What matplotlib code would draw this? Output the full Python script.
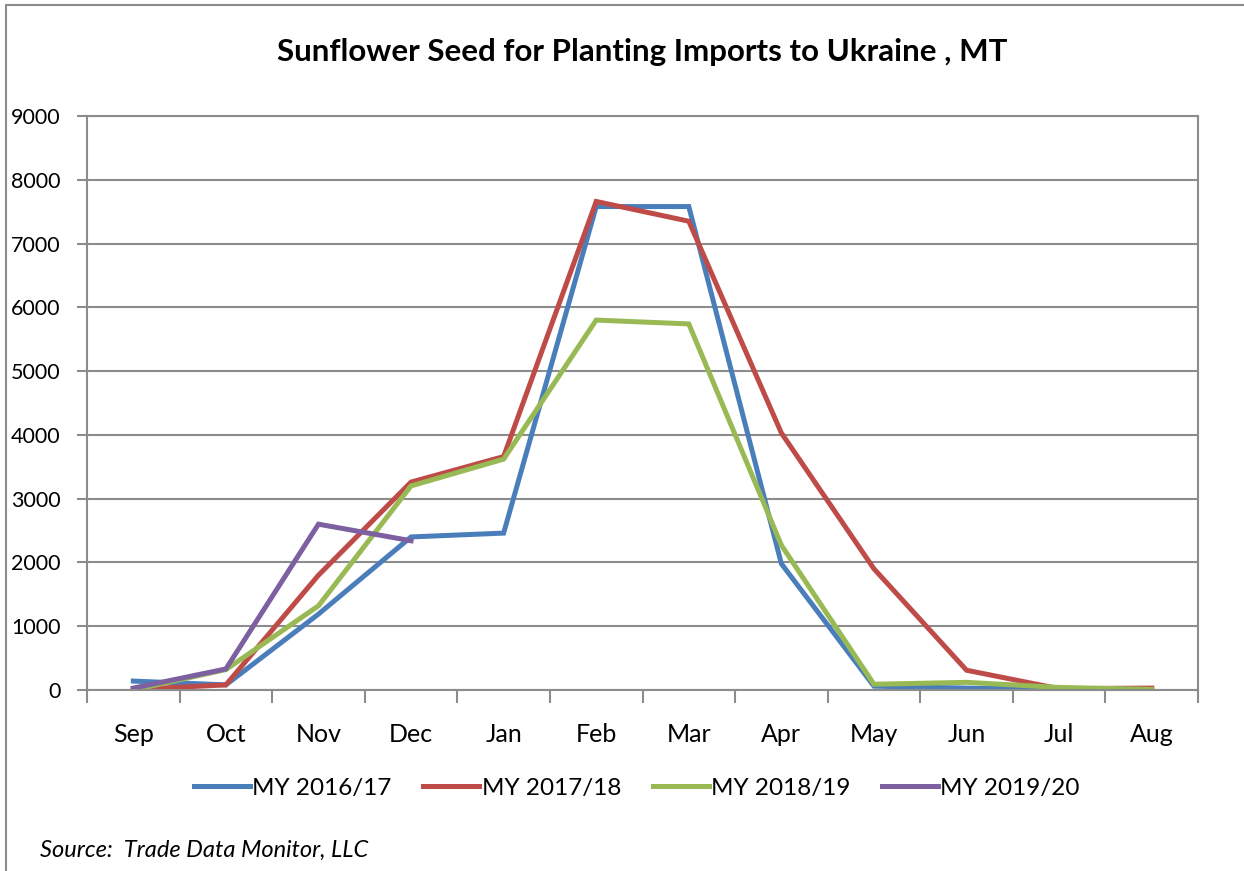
import matplotlib.pyplot as plt
import numpy as np
from matplotlib.patches import Rectangle
from matplotlib.lines import Line2D

months = ["Sep", "Oct", "Nov", "Dec", "Jan", "Feb", "Mar", "Apr", "May", "Jun", "Jul", "Aug"]

my_2016 = [140, 80, 1190, 2400, 2460, 7580, 7580, 1980, 60, 30, 10, 10]
my_2017 = [10, 80, 1800, 3260, 3660, 7660, 7350, 4030, 1900, 310, 20, 30]
my_2018 = [0, 320, 1320, 3200, 3620, 5800, 5740, 2270, 90, 120, 40, 10]
my_2019 = [30, 330, 2600, 2340]

series_names = ["MY 2016/17", "MY 2017/18", "MY 2018/19", "MY 2019/20"]
colors = ["#4A7EBB", "#BE4B48", "#98B954", "#7D60A0"]

plt.rcParams['font.family'] = ['Lato', 'DejaVu Sans']

fig = plt.figure(figsize=(12.44, 8.71), dpi=100)
ax = fig.add_axes([87 / 1244, 1 - 690 / 871, (1198 - 87) / 1244, (690 - 116) / 871])

# outer chart frame (left and top edges visible)
fig.patches.append(Rectangle((6 / 1244, -0.1), 1.2, 1 - 5 / 871 + 0.1, transform=fig.transFigure,
                             fill=False, edgecolor="#8c8c8c", lw=1.5))

x = np.arange(len(months))
all_series = [my_2016, my_2017, my_2018, my_2019]
for vals, name, c in zip(all_series, series_names, colors):
    ax.plot(x[:len(vals)], vals, color=c, lw=3.6, label=name, solid_joinstyle='miter')

ax.set_xlim(-0.5, len(months) - 0.5)
ax.set_ylim(0, 9000)
ax.set_yticks(np.arange(0, 9001, 1000))
ax.set_xticks(x)
ax.set_xticklabels(months)
ax.set_xticks(np.arange(-0.5, len(months), 1), minor=True)
ax.tick_params(axis='x', which='major', length=0, pad=24, labelsize=18)
ax.tick_params(axis='x', which='minor', length=9, width=1.5, color="#8c8c8c", direction='out')
ax.tick_params(axis='y', length=7, width=1.5, color="#8c8c8c", labelsize=15.5, pad=12)

ax.grid(axis='y', color="#8c8c8c", lw=1.5)
ax.set_axisbelow(True)
for s in ax.spines.values():
    s.set_color("#8c8c8c")
    s.set_linewidth(1.5)

fig.text(0.516, 1 - 52 / 871, "Sunflower Seed for Planting Imports to Ukraine , MT",
         ha='center', va='center', fontsize=22.5, fontweight='bold')

handles = [Line2D([0], [0], color=c, lw=3.6) for c in colors]
fig.legend(handles, series_names, loc='center', bbox_to_anchor=(0.512, 1 - 788 / 871),
           ncol=4, frameon=False, fontsize=17.5, handlelength=2.3, handletextpad=0.1,
           columnspacing=1.3)

fig.text(40 / 1244, 1 - 850 / 871, "Source:  Trade Data Monitor, LLC", ha='left', va='center',
         fontsize=17, style='italic')

fig.savefig("out.png", dpi=100)
